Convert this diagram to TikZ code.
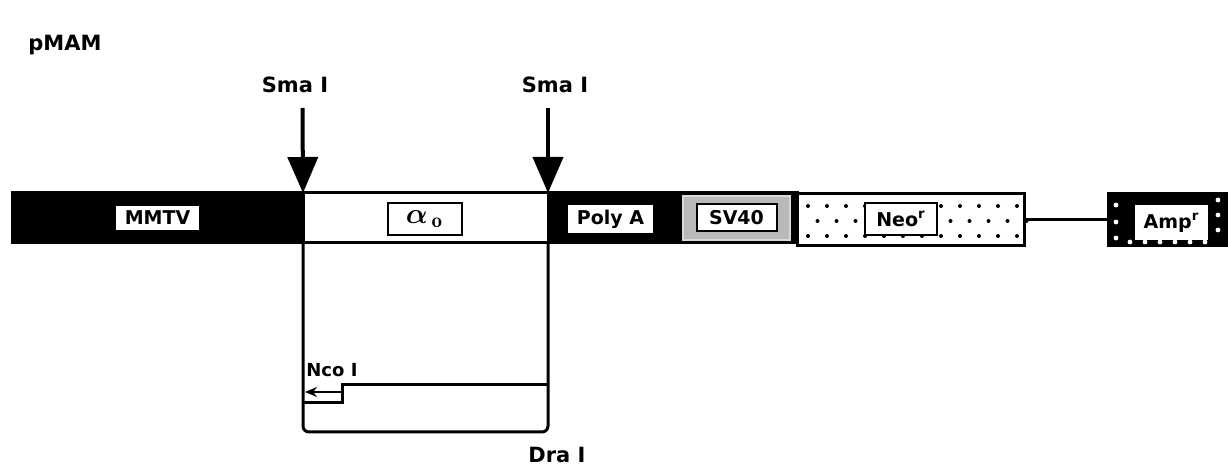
\documentclass[tikz,border=0pt]{standalone}
\usepackage{amsmath}
\usepackage{fontspec}
\setsansfont{DejaVu Sans}
\usetikzlibrary{arrows.meta}
\begin{document}
\begin{tikzpicture}[x=0.5pt, y=-0.5pt,
    seg/.style={draw, line width=1.5pt, minimum height=25pt, inner sep=0pt, outer sep=0pt},
    lab/.style={fill=white, inner sep=0pt, font=\sffamily\bfseries\fontsize{9.5}{10}\selectfont},
    site/.style={font=\sffamily\bfseries\fontsize{10.5}{12}\selectfont},
    cut/.style={-{Triangle[width=15pt,length=18pt]}, line width=2pt},
    wire/.style={line width=1.5pt}
]
\useasboundingbox (0,0) rectangle (1228,470);

\node[site] (title) at (65,45) {pMAM};

% vector segments
\node[seg, fill=black, minimum width=145.5pt] (mmtv)  at (157.5,218) {};
\node[seg, fill=white, minimum width=122.5pt] (ins)   at (425.5,218) {};
\node[seg, fill=black, minimum width=124.5pt] (polya) at (672.5,218) {};
\node[fill=gray!55, draw=gray!30, line width=1pt, minimum width=53.5pt, minimum height=22pt, inner sep=0pt] (sv40) at (736.5,218) {};
\node[seg, fill=white, minimum width=113.5pt, minimum height=26pt] (neo) at (910.5,220) {};
\node[seg, fill=black, minimum width=59pt, minimum height=26pt] (amp) at (1167,220) {};

% stipple of Neo and Amp segments
\foreach \row/\shift in {206/0, 221/9.5, 236/0}
  \foreach \k in {0,...,11}
    \fill (808+\shift+19*\k,\row) circle (1pt);
\foreach \yy in {205,222,238}
  \fill[white] (1116,\yy) circle (1.2pt);
\foreach \xx in {1130,1145,...,1205}
  \fill[white] (\xx,242) circle (1.2pt);
\foreach \yy in {200,215,230}
  \fill[white] (1218,\yy) circle (1.2pt);

% labels on the segments
\node[lab, minimum width=41.5pt, minimum height=12pt] (mmtvlab) at (mmtv.center) {MMTV};
\node[lab, draw, line width=1pt, minimum width=37pt, minimum height=16pt] (inslab) at (424.5,219) {\fontsize{15}{16}\selectfont$\boldsymbol{\alpha}_{\,\mathbf{o}}$};
\node[lab, minimum width=42.5pt, minimum height=14pt] (polyalab) at (610.5,219) {Poly A};
\node[lab, draw, line width=1pt, minimum width=40pt, minimum height=13.5pt] (sv40lab) at (sv40.center) {SV40};
\node[lab, draw, line width=1pt, minimum width=36pt, minimum height=16pt] (neolab) at (901,219) {Neo\textsuperscript{r}};
\node[lab, minimum width=36.5pt, minimum height=17.5pt] (amplab) at (1171.5,222.5) {Amp\textsuperscript{r}};

\draw[wire] (neo.east) -- (amp.west);

% restriction sites
\node[site] (smaL) at (295,85) {Sma I};
\node[site] (smaR) at (555,85) {Sma I};
\coordinate (cutL) at (302.5,108);
\coordinate (cutR) at (548,108);
\draw[cut] (cutL) -- (ins.north west);
\draw[cut] (cutR) -- (ins.north east);

% insert map
\coordinate (loopBL) at (303,432);
\coordinate (loopBR) at (548,432);
\draw[wire, rounded corners=3pt] (ins.south west) -- (loopBL) -- (loopBR) -- (ins.south east);
\coordinate (orfR) at (548,385);
\coordinate (orfS) at (342,385);
\coordinate (orfB) at (342,403);
\coordinate (orfL) at (303,403);
\draw[wire] (orfR) -- (orfS) -- (orfB) -- (orfL);
\coordinate (startR) at (342,392);
\coordinate (startL) at (305,392);
\draw[-{Stealth[length=6pt,width=5pt]}, line width=1pt] (startR) -- (startL);

\node[site, font=\sffamily\bfseries\fontsize{9}{10}\selectfont, anchor=west, inner sep=1pt] (nco) at (304,370) {Nco I};
\node[site] (dra) at (557,455) {Dra I};
\end{tikzpicture}
\end{document}
